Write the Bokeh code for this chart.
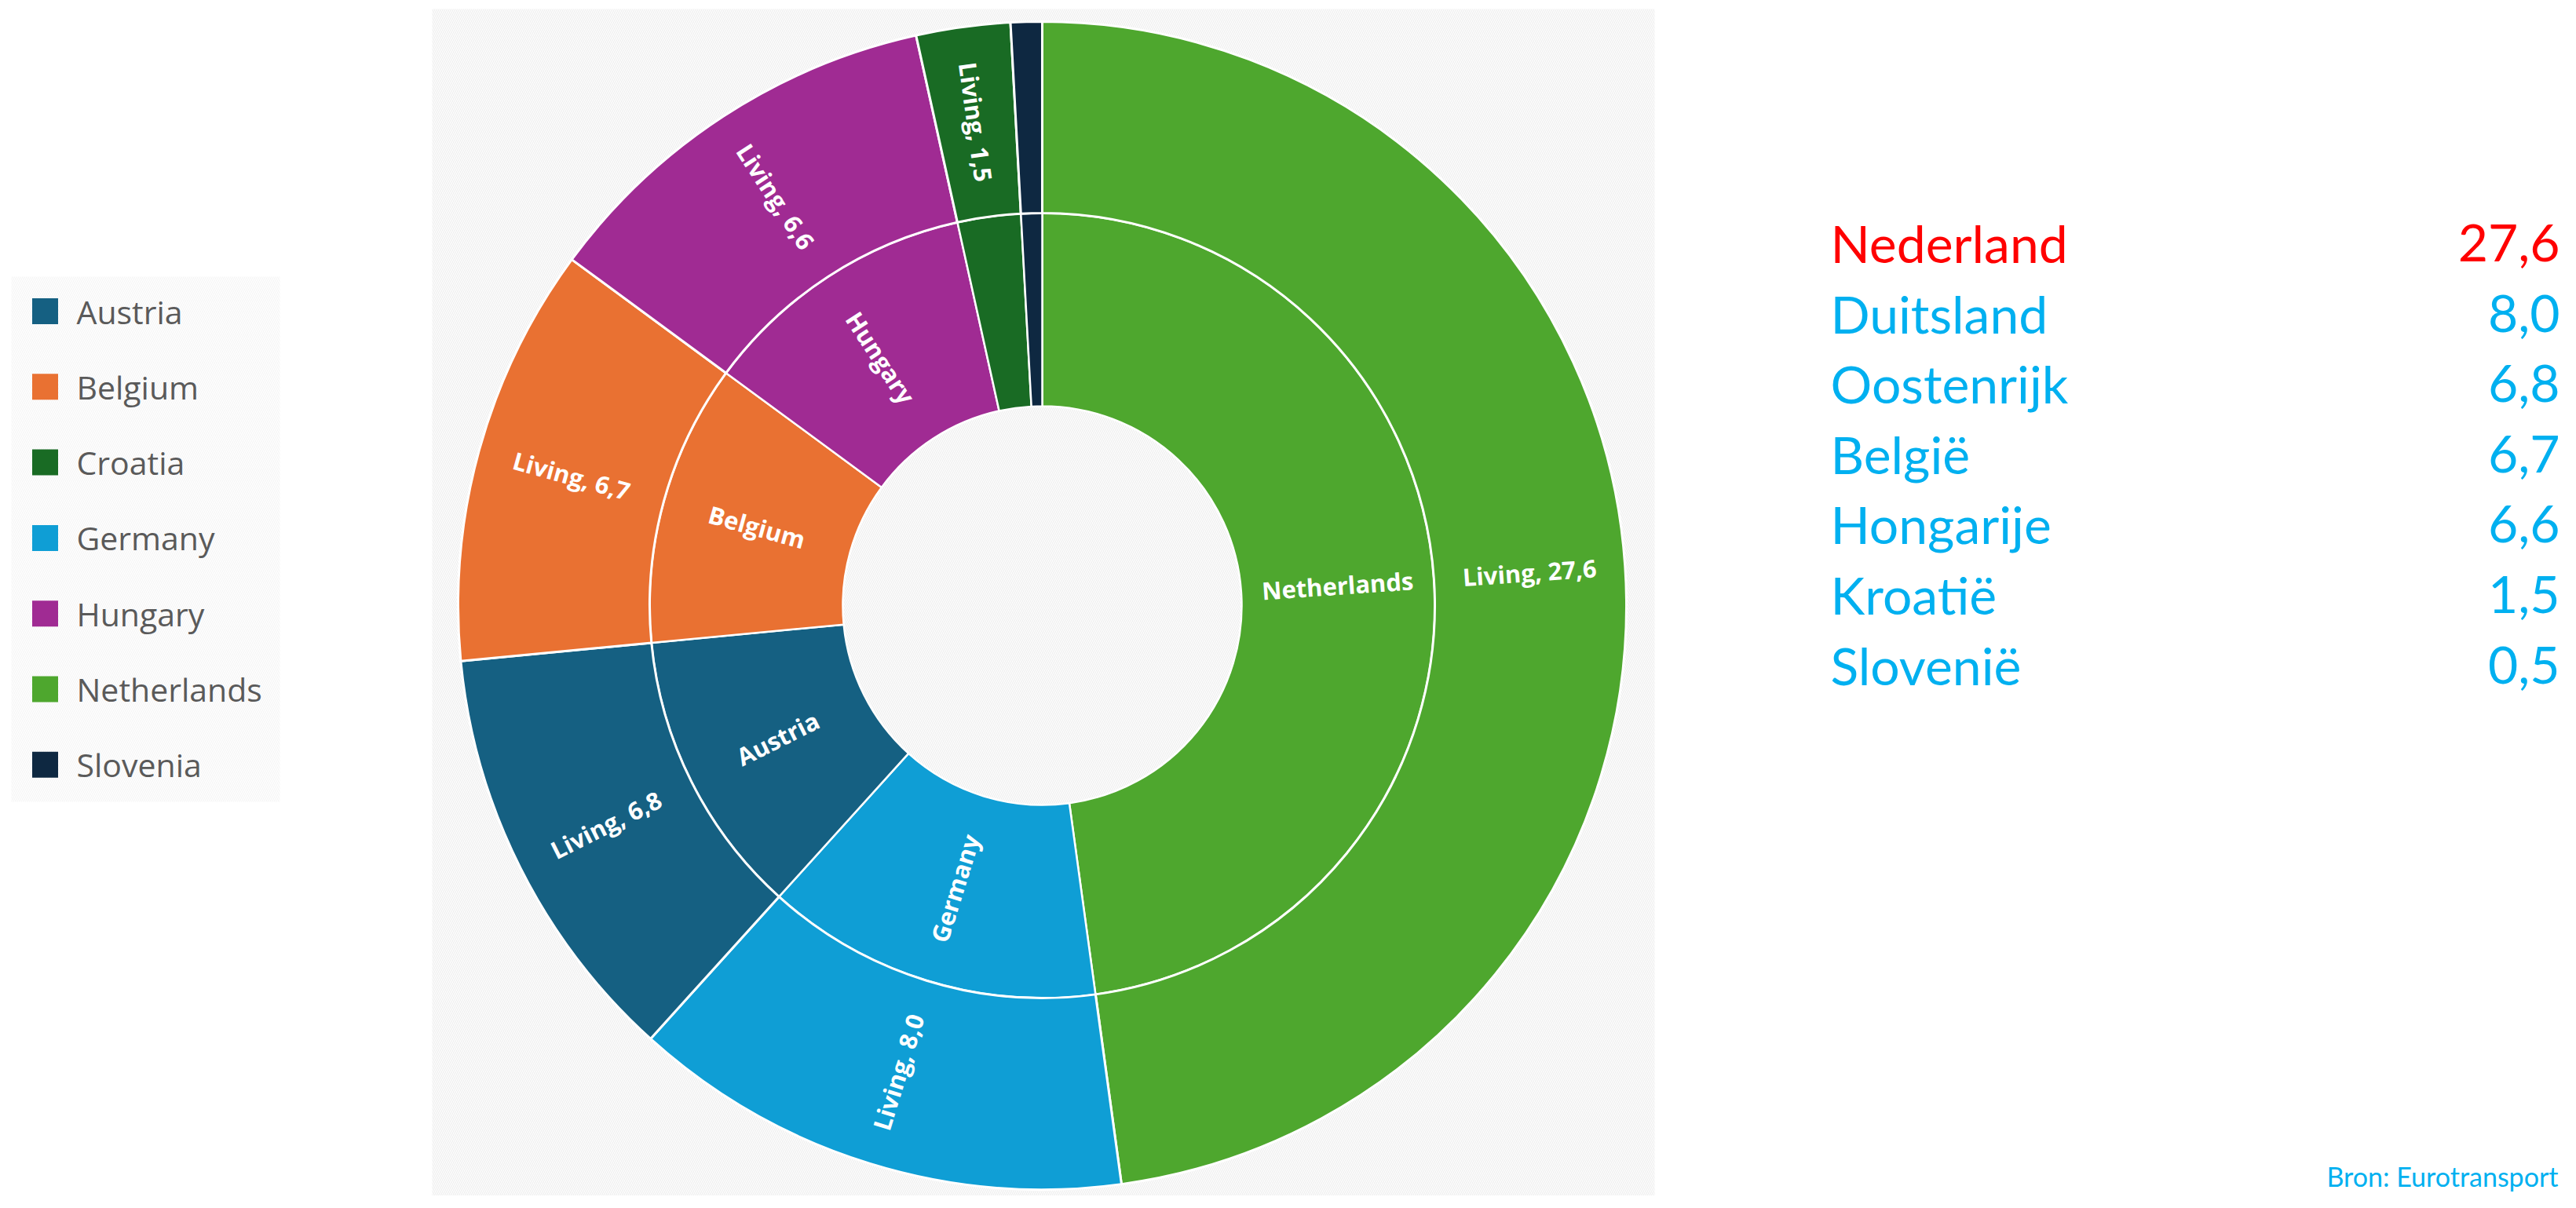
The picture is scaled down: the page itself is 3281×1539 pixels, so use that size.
import math
from bokeh.plotting import figure
from bokeh.models import Range1d
from bokeh.core.properties import value
from bokeh.embed import file_html
from bokeh.resources import INLINE

# ---------------- data ----------------
countries = ["Netherlands", "Germany", "Austria", "Belgium", "Hungary", "Croatia", "Slovenia"]
living = [27.6, 8.0, 6.8, 6.7, 6.6, 1.5, 0.5]
country_colors = ["#4EA72E", "#0F9ED5", "#156082", "#E97132", "#A02B93", "#196B24", "#0E2841"]

legend_names = ["Austria", "Belgium", "Croatia", "Germany", "Hungary", "Netherlands", "Slovenia"]

nl_names = ["Nederland", "Duitsland", "Oostenrijk", "België", "Hongarije", "Kroatië", "Slovenië"]
nl_values = [27.6, 8.0, 6.8, 6.7, 6.6, 1.5, 0.5]
source_note = "Bron: Eurotransport"

# ---------------- layout ----------------
W, H = 3265, 1523


def px(x):
    return x


def py(y):
    return H - y


p = figure(width=W, height=H, x_range=Range1d(0, W), y_range=Range1d(0, H),
           output_backend="svg", toolbar_location=None, min_border=0,
           x_axis_type=None, y_axis_type=None)
p.grid.visible = False
p.outline_line_color = None
p.background_fill_color = "white"
p.border_fill_color = "white"

# hatched chart background
p.quad(left=[px(550)], right=[px(2107)], top=[py(11)], bottom=[-10],
       fill_color="white", line_color=None,
       hatch_pattern="\\", hatch_color="#eeeeee", hatch_scale=5, hatch_weight=1.2)

# hatched legend background
p.quad(left=[px(14)], right=[px(356)], top=[py(352)], bottom=[py(1021)],
       fill_color="white", line_color=None,
       hatch_pattern="\\", hatch_color="#f2f2f2", hatch_scale=5, hatch_weight=1.0)

# ---------------- sunburst ----------------
cx, cy = px(1327), py(771)
r_hole, r_mid, r_out = 254, 500, 744
total = sum(living)

starts, ends, mids = [], [], []
acc = 0.0
for v in living:
    a0 = acc / total * 2 * math.pi
    acc += v
    a1 = acc / total * 2 * math.pi
    starts.append(math.pi / 2 - a0)
    ends.append(math.pi / 2 - a1)
    mids.append((a0 + a1) / 2)

n = len(living)
p.annular_wedge(x=[cx] * n, y=[cy] * n, inner_radius=r_hole, outer_radius=r_mid,
                start_angle=starts, end_angle=ends, direction="clock",
                fill_color=country_colors, line_color="white", line_width=2.5)
p.annular_wedge(x=[cx] * n, y=[cy] * n, inner_radius=r_mid, outer_radius=r_out,
                start_angle=starts, end_angle=ends, direction="clock",
                fill_color=country_colors, line_color="white", line_width=3)


def label_angle(theta):
    deg = math.degrees(theta)
    if deg <= 180:
        return math.radians(90 - deg)
    return math.radians(270 - deg)


in_x, in_y, in_t, in_a = [], [], [], []
out_x, out_y, out_t, out_a = [], [], [], []
r_in_lab = (r_hole + r_mid) / 2
r_out_lab = (r_mid + r_out) / 2
for name, v, th in zip(countries, living, mids):
    if v >= 2:
        in_x.append(cx + r_in_lab * math.sin(th))
        in_y.append(cy + r_in_lab * math.cos(th))
        in_t.append(name)
        in_a.append(label_angle(th))
    if v >= 1:
        out_x.append(cx + r_out_lab * math.sin(th))
        out_y.append(cy + r_out_lab * math.cos(th))
        out_t.append("Living, " + f"{v:.1f}".replace(".", ","))
        out_a.append(label_angle(th))

p.text(x=in_x, y=in_y, text=in_t, angle=in_a, text_align="center", text_baseline="middle",
       text_color="white", text_font=value("Open Sans"), text_font_style="bold",
       text_font_size="31px")
p.text(x=out_x, y=out_y, text=out_t, angle=out_a, text_align="center", text_baseline="middle",
       text_color="white", text_font=value("Open Sans"), text_font_style="bold",
       text_font_size="31px")

# ---------------- legend ----------------
color_of = dict(zip(countries, country_colors))
leg_y = [py(396 + 96.3 * i) for i in range(len(legend_names))]
p.rect(x=[px(57)] * len(legend_names), y=leg_y, width=33, height=33,
       fill_color=[color_of[c] for c in legend_names], line_color=None)
p.text(x=[px(97)] * len(legend_names), y=leg_y, text=legend_names,
       text_align="left", text_baseline="middle", text_color="#5a5a5a",
       text_font=value("Open Sans"), text_font_size="41px")

# ---------------- right-hand table ----------------
row_base = [py(309 + 89.6 * i) for i in range(len(nl_names))]
row_colors = ["#FF0000"] + ["#00B0F0"] * (len(nl_names) - 1)
p.text(x=[px(2331)] * len(nl_names), y=row_base, text=nl_names,
       text_align="left", text_baseline="alphabetic", text_color=row_colors,
       text_font=value("Lato"), text_font_size="66px")
p.text(x=[px(3260)] * len(nl_values), y=row_base,
       text=[f"{v:.1f}".replace(".", ",") for v in nl_values],
       text_align="right", text_baseline="alphabetic", text_color=row_colors,
       text_font=value("Lato"), text_font_size="66px")

p.text(x=[px(3258)], y=[py(1518)], text=[source_note], text_align="right",
       text_baseline="bottom", text_color="#00B0F0", text_font=value("Lato"),
       text_font_size="34px")

open("out.html", "w").write(file_html(p, INLINE))
